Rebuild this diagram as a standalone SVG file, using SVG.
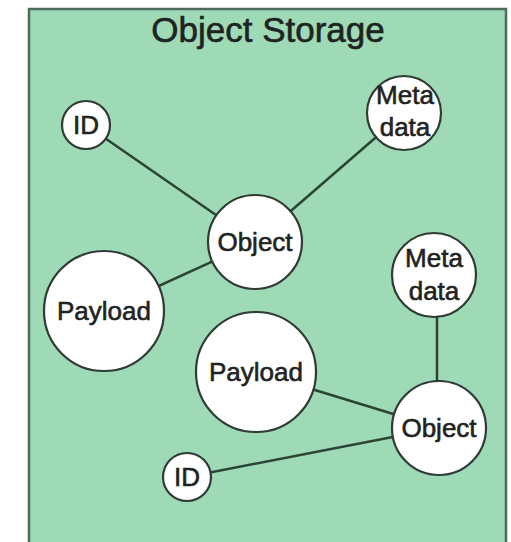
<svg xmlns="http://www.w3.org/2000/svg" width="511" height="542" viewBox="0 0 511 542">
  <style>
    .frame { fill: #9edab6; stroke: #4f6b5a; stroke-width: 2.5; }
    .node circle { fill: #ffffff; stroke: #2f3b34; stroke-width: 2.2; }
    .node text, .title { font-family: "Liberation Sans", Arial, sans-serif; fill: #1f2321; stroke: #1f2321; stroke-width: 0.6; text-anchor: middle; }
    .node text { font-size: 26px; }
    .title { font-size: 35px; }
    #connectors line { stroke: #2b4535; stroke-width: 2.5; }
  </style>
  <rect class="frame" x="29" y="9" width="477" height="540"/>
  <text class="title" x="268" y="42">Object Storage</text>

  <g id="connectors">
    <line x1="86" y1="125" x2="255" y2="242"/>
    <line x1="404" y1="113" x2="255" y2="242"/>
    <line x1="104" y1="311" x2="255" y2="242"/>
    <line x1="437" y1="275" x2="437" y2="428"/>
    <line x1="256" y1="372" x2="439" y2="428"/>
    <line x1="187" y1="477" x2="439" y2="428"/>
  </g>

  <g id="id1" class="node">
    <circle cx="86" cy="125" r="24"/>
    <text x="86" y="134">ID</text>
  </g>
  <g id="meta1" class="node">
    <circle cx="404" cy="113" r="37"/>
    <text x="405" y="104">Meta</text>
    <text x="405" y="136">data</text>
  </g>
  <g id="object1" class="node">
    <circle cx="255" cy="242" r="47"/>
    <text x="255" y="251">Object</text>
  </g>
  <g id="payload1" class="node">
    <circle cx="104" cy="311" r="60"/>
    <text x="104" y="320">Payload</text>
  </g>
  <g id="meta2" class="node">
    <circle cx="434" cy="275" r="42"/>
    <text x="434" y="267">Meta</text>
    <text x="434" y="300">data</text>
  </g>
  <g id="payload2" class="node">
    <circle cx="256" cy="372" r="60"/>
    <text x="256" y="381">Payload</text>
  </g>
  <g id="object2" class="node">
    <circle cx="439" cy="428" r="47"/>
    <text x="439" y="437">Object</text>
  </g>
  <g id="id2" class="node">
    <circle cx="187" cy="477" r="24"/>
    <text x="187" y="486">ID</text>
  </g>
</svg>
